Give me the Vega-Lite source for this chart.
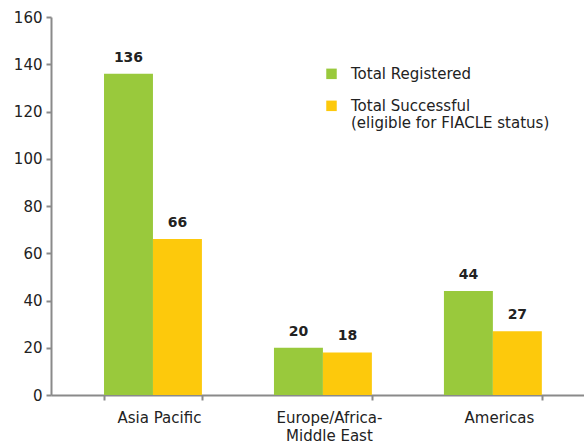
{
  "$schema": "https://vega.github.io/schema/vega-lite/v6.json",
  "width": 533,
  "height": 378,
  "autosize": {"type": "none"},
  "padding": {"left": 51, "top": 17, "right": 0, "bottom": 49},
  "background": "white",
  "config": {
    "view": {"stroke": null},
    "font": "DejaVu Sans",
    "axis": {"grid": false, "domainColor": "#8a8a8a", "domainWidth": 2, "tickColor": "#8a8a8a", "tickWidth": 2, "labelColor": "#222222", "labelFontSize": 15, "labelFont": "DejaVu Sans", "labelOverlap": false}
  },
  "data": {
    "values": [
      {"region": "Asia Pacific", "series": "Total Registered", "value": 136},
      {"region": "Asia Pacific", "series": "Total Successful (eligible for FIACLE status)", "value": 66},
      {"region": "Europe/Africa-Middle East", "series": "Total Registered", "value": 20},
      {"region": "Europe/Africa-Middle East", "series": "Total Successful (eligible for FIACLE status)", "value": 18},
      {"region": "Americas", "series": "Total Registered", "value": 44},
      {"region": "Americas", "series": "Total Successful (eligible for FIACLE status)", "value": 27}
    ]
  },
  "encoding": {
    "x": {
      "field": "region", "type": "nominal", "sort": null,
      "scale": {"paddingInner": 0.424, "paddingOuter": 0.28, "align": 0.557},
      "axis": {
        "title": null, "labelAngle": 0, "tickBand": "extent", "tickSize": 5,
        "labelPadding": 10, "labelOffset": 6, "labelLineHeight": 18, "labelFontSize": 15,
        "labelExpr": "datum.value == 'Europe/Africa-Middle East' ? ['Europe/Africa-', 'Middle East'] : datum.label"
      }
    },
    "xOffset": {"field": "series", "type": "nominal", "sort": null, "scale": {"paddingInner": 0}},
    "y": {
      "field": "value", "type": "quantitative",
      "scale": {"domain": [0, 160], "nice": false},
      "axis": {"title": null, "values": [0, 20, 40, 60, 80, 100, 120, 140, 160], "tickSize": 5, "labelPadding": 4}
    }
  },
  "layer": [
    {
      "mark": {"type": "bar"},
      "encoding": {
        "color": {
          "field": "series", "type": "nominal", "sort": null,
          "scale": {"range": ["#99c93c", "#fdc90c"]},
          "legend": {
            "title": null, "orient": "none", "legendX": 273, "legendY": 42,
            "symbolType": "M-1,0.4H1V2.4H-1Z", "symbolSize": 110, "symbolStrokeWidth": 0,
            "labelFontSize": 15, "labelColor": "#222222", "labelFont": "DejaVu Sans",
            "labelLimit": 300, "rowPadding": 9, "labelOffset": 12,
            "labelBaseline": "top", "labelLineHeight": 18,
            "labelExpr": "datum.value == 'Total Registered' ? datum.label : ['Total Successful', '(eligible for FIACLE status)']"
          }
        }
      }
    },
    {
      "mark": {"type": "text", "dy": -16, "fontSize": 14, "fontWeight": "bold", "color": "#222222", "font": "DejaVu Sans"},
      "encoding": {"text": {"field": "value", "type": "quantitative"}}
    }
  ]
}
